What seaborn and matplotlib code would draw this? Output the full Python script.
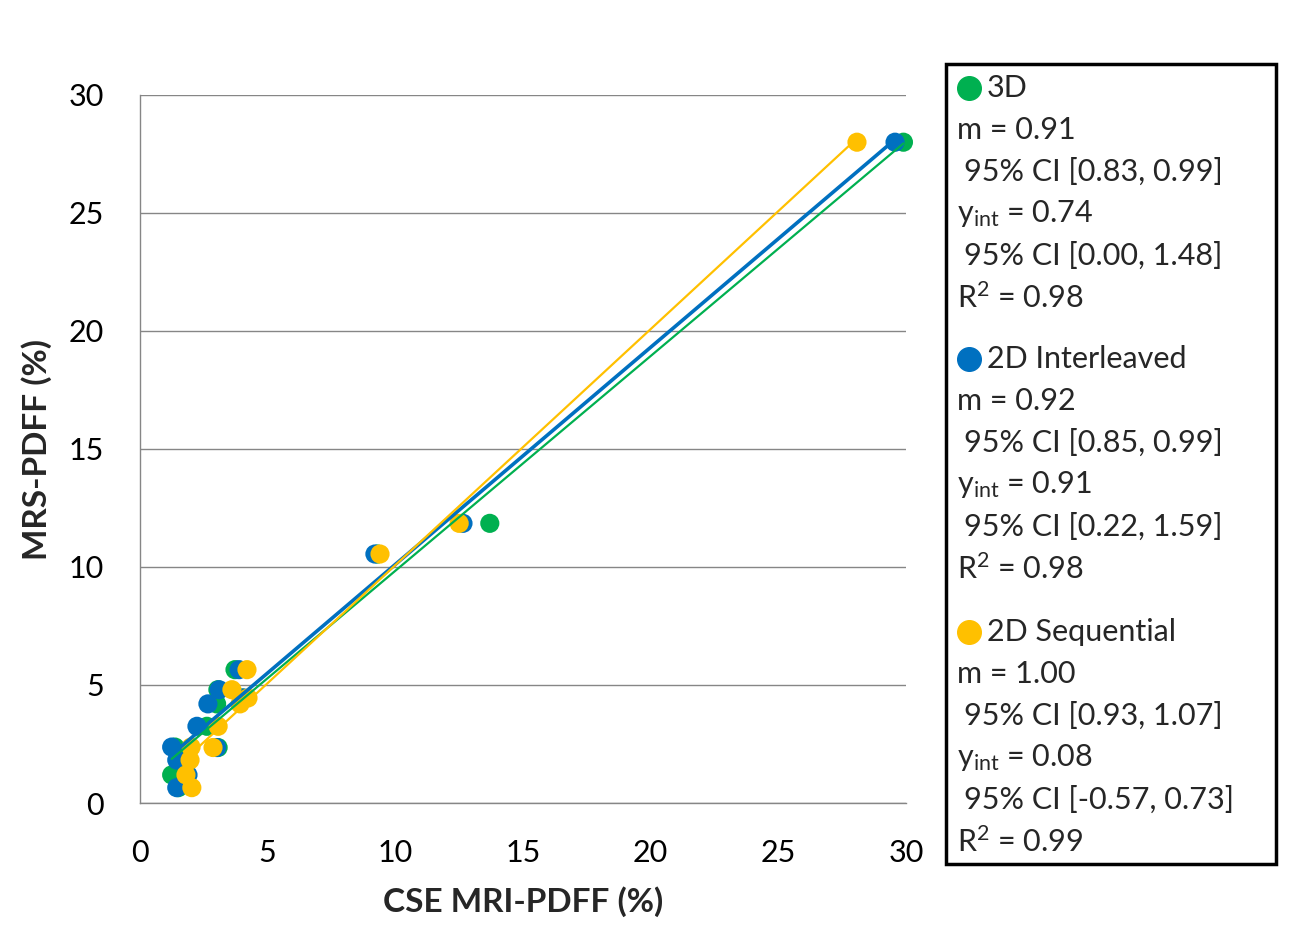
import matplotlib
matplotlib.use("Agg")
import matplotlib.pyplot as plt
import seaborn as sns
import numpy as np
import pandas as pd
from matplotlib.lines import Line2D
from matplotlib.patches import Rectangle

# ---- data ----
mrs_pdff = [28.0, 11.85, 10.55, 5.65, 4.8, 4.45, 4.2, 3.25, 2.37, 2.35, 1.82, 1.19, 0.65]
x_3d     = [29.9, 13.7, 9.3, 3.72, 3.05, 4.0, 3.0, 2.62, 1.37, 3.06, 1.5, 1.24, 1.5]
x_2di    = [29.57, 12.65, 9.2, 3.88, 3.1, 4.05, 2.66, 2.23, 1.24, 3.0, 1.44, 1.88, 1.44]
x_2ds    = [28.08, 12.5, 9.4, 4.19, 3.6, 4.23, 3.92, 3.06, 2.0, 2.86, 1.96, 1.8, 2.03]
methods = ["3D", "2D Interleaved", "2D Sequential"]
slopes = [0.91, 0.92, 1.00]
intercepts = [0.74, 0.91, 0.08]
slope_ci = ["[0.83, 0.99]", "[0.85, 0.99]", "[0.93, 1.07]"]
int_ci = ["[0.00, 1.48]", "[0.22, 1.59]", "[-0.57, 0.73]"]
r2 = ["0.98", "0.98", "0.99"]
colors = ["#00B050", "#0070C0", "#FFC000"]
line_widths = [1.6, 2.6, 1.6]
x_ticks = [0, 5, 10, 15, 20, 25, 30]
y_ticks = [0, 5, 10, 15, 20, 25, 30]

sns.set_style("white")
plt.rcParams['font.family'] = ['Lato', 'DejaVu Sans']
plt.rcParams['mathtext.fontset'] = 'custom'
plt.rcParams['mathtext.rm'] = 'Lato'
plt.rcParams['mathtext.it'] = 'Lato:italic'
plt.rcParams['mathtext.bf'] = 'Lato:bold'

fig = plt.figure(figsize=(13.01, 9.46), dpi=100)
ax = fig.add_axes([140/1301, (946-803)/946, (906-140)/1301, (803-95)/946])

xs_all = [x_3d, x_2di, x_2ds]
frames = []
for m, xs in zip(methods, xs_all):
    frames.append(pd.DataFrame({"x": xs, "y": mrs_pdff, "method": m}))
df = pd.concat(frames, ignore_index=True)

sns.scatterplot(data=df, x="x", y="y", hue="method", palette=dict(zip(methods, colors)),
                s=190, edgecolor="none", linewidth=0, legend=False, ax=ax, zorder=2,
                clip_on=False)

for m, xs, k, b, c, lw in zip(methods, xs_all, slopes, intercepts, colors, line_widths):
    xl = np.array([min(xs), max(xs)])
    ldf = pd.DataFrame({"x": xl, "y": k * xl + b})
    sns.lineplot(data=ldf, x="x", y="y", color=c, linewidth=lw, ax=ax, zorder=3)

ax.set_xlim(0, 30)
ax.set_ylim(0, 30)
ax.set_xticks(x_ticks)
ax.set_yticks(y_ticks)
ax.tick_params(axis='both', labelsize=22, colors='black', length=6, width=1, direction='out')
ax.tick_params(axis='both', color='#868686')
ax.yaxis.grid(True, color='#868686', linewidth=1)
ax.xaxis.grid(False)
for s in ['top', 'right']:
    ax.spines[s].set_visible(False)
for s in ['left', 'bottom']:
    ax.spines[s].set_color('#868686')
    ax.spines[s].set_linewidth(1)
ax.tick_params(axis='x', pad=20)
ax.tick_params(axis='y', pad=20)
ax.set_xlabel("CSE MRI-PDFF (%)", fontsize=24, fontweight='bold', labelpad=14)
ax.set_ylabel("MRS-PDFF (%)", fontsize=24, fontweight='bold', labelpad=12)

# ---- legend box ----
W, H = 1301, 946
def fx(px): return px / W
def fy(py): return 1 - py / H

fig.add_artist(Rectangle((fx(946), fy(864)), fx(1276) - fx(946), fy(64) - fy(864),
                         transform=fig.transFigure, fill=False, edgecolor='black', linewidth=2.5))

fs = 22
group_tops = [88, 359, 632]
step = 41.9
for gi, top in enumerate(group_tops):
    ys = [top + step * i for i in range(6)]
    fig.add_artist(Line2D([fx(969)], [fy(ys[0])], marker='o', markersize=17, color=colors[gi],
                          linestyle='none', transform=fig.transFigure))
    fig.text(fx(987), fy(ys[0]), methods[gi], fontsize=fs, va='center', ha='left')
    fig.text(fx(957), fy(ys[1]), f"m = {slopes[gi]:.2f}", fontsize=fs, va='center', ha='left')
    fig.text(fx(964), fy(ys[2]), f"95% CI {slope_ci[gi]}", fontsize=fs, va='center', ha='left')
    fig.text(fx(957), fy(ys[3]), r"y$_{\mathrm{int}}$" + f" = {intercepts[gi]:.2f}", fontsize=fs, va='center', ha='left')
    fig.text(fx(964), fy(ys[4]), f"95% CI {int_ci[gi]}", fontsize=fs, va='center', ha='left')
    fig.text(fx(957), fy(ys[5]), r"R$^{2}$" + f" = {r2[gi]}", fontsize=fs, va='center', ha='left')

fig.savefig("out.png", dpi=100)
